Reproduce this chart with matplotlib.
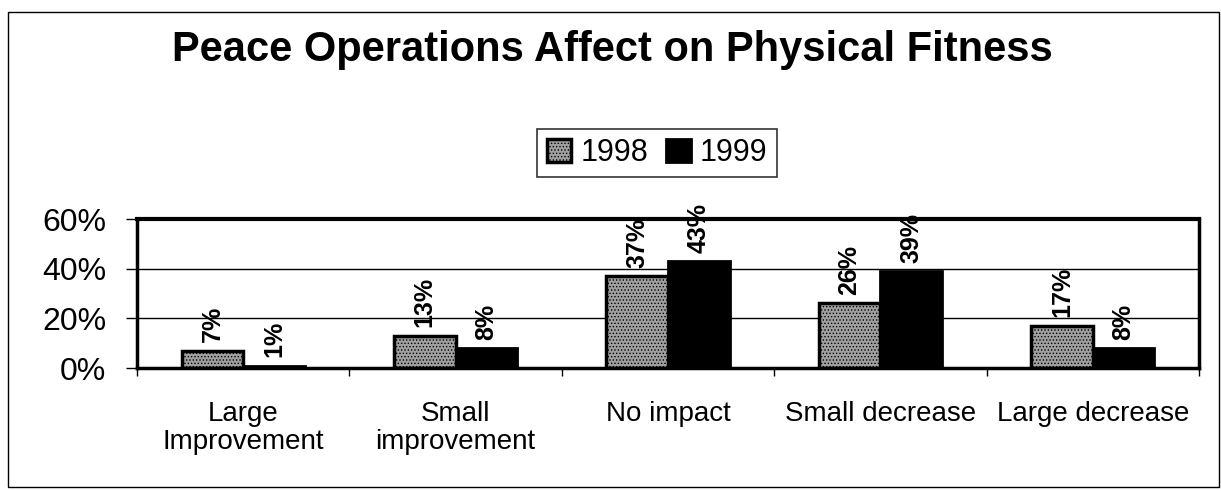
import matplotlib
matplotlib.use("Agg")
import matplotlib.pyplot as plt
import numpy as np
from matplotlib.patches import Rectangle

categories = ["Large\nImprovement", "Small\nimprovement", "No impact", "Small decrease", "Large decrease"]
vals_1998 = [7, 13, 37, 26, 17]
vals_1999 = [1, 8, 43, 39, 8]
yticks = [0, 20, 40, 60]
ytick_labels = ["0%", "20%", "40%", "60%"]

plt.rcParams['font.family'] = ['Liberation Sans', 'DejaVu Sans']
plt.rcParams['hatch.linewidth'] = 0.6

fig = plt.figure(figsize=(12.21, 4.91), dpi=100)
W, H = 1221, 491
ax = fig.add_axes([137 / W, 1 - 368 / H, (1199 - 137) / W, (368 - 219) / H])

x = np.arange(len(categories))
bw = 0.29
b1 = ax.bar(x - bw / 2, vals_1998, bw, facecolor='#a0a0a0', edgecolor='black',
            hatch='.....', linewidth=2.5, label='1998')
b2 = ax.bar(x + bw / 2, vals_1999, bw, facecolor='black', edgecolor='black',
            linewidth=2, label='1999')

for rect, v in list(zip(b1, vals_1998)) + list(zip(b2, vals_1999)):
    ax.annotate(f"{v}%", (rect.get_x() + rect.get_width() / 2, rect.get_height()),
                xytext=(0, 6), textcoords='offset points',
                rotation=90, ha='center', va='bottom', fontsize=18, fontweight='bold')

ax.set_xlim(-0.5, len(categories) - 0.5)
ax.set_ylim(0, 60)
ax.set_yticks(yticks)
ax.set_yticklabels(ytick_labels, fontsize=23)
ax.yaxis.grid(True, color='black', linewidth=1)
ax.set_axisbelow(True)
ax.set_xticks(x)
ax.set_xticklabels(categories, fontsize=20, linespacing=1.08, va='top')
ax.tick_params(axis='x', length=0, pad=24)
ax.set_xticks(np.arange(len(categories) + 1) - 0.5, minor=True)
ax.tick_params(axis='x', which='minor', length=6, width=1, direction='out')
ax.tick_params(axis='y', length=8, width=1, pad=14)
for s in ax.spines.values():
    s.set_linewidth(2.5)
ax.spines['top'].set_linewidth(3)

fig.text(612 / W, 1 - 50 / H, "Peace Operations Affect on Physical Fitness",
         ha='center', va='center', fontsize=30, fontweight='bold')

leg = fig.legend(handles=[b1, b2], loc='center', bbox_to_anchor=(657 / W, 1 - 153 / H),
                 ncol=2, fontsize=22, frameon=True, fancybox=False, handlelength=0.8,
                 handleheight=0.8, handletextpad=0.3, columnspacing=0.6, borderpad=0.3)
leg.get_frame().set_edgecolor('black')
leg.get_frame().set_linewidth(1.2)

fig.patches.append(Rectangle((8 / W, 1 - 487 / H), (1219 - 8) / W, (487 - 12) / H,
                             transform=fig.transFigure, fill=False, edgecolor='black',
                             linewidth=1))

fig.savefig("out.png", dpi=100)
